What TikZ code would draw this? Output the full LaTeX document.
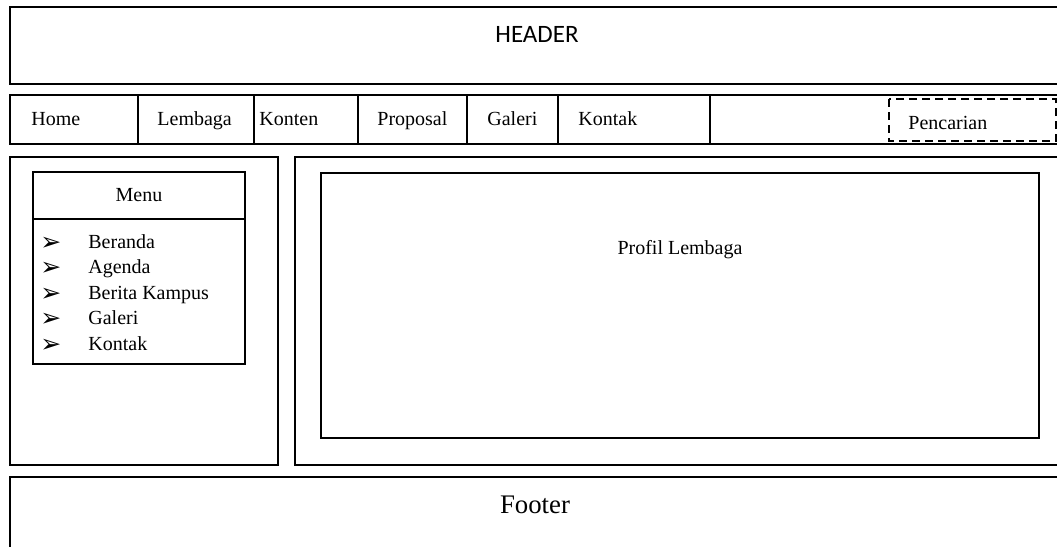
\documentclass[tikz,border=0pt]{standalone}
\usepackage{fontspec}
\setmainfont{Liberation Serif}
\newfontfamily\hdrfont{Carlito}
\newfontfamily\symfont{DejaVu Sans}
\begin{document}
\begin{tikzpicture}[x=0.5pt,y=-0.5pt,
  frame/.style={draw=black,line width=1pt},
  lbl/.style={anchor=base west,inner sep=0pt,font=\fontsize{10}{12}\selectfont},
  clbl/.style={anchor=base,inner sep=0pt,font=\fontsize{10}{12}\selectfont},
  bullet/.style={anchor=base west,inner sep=0pt,font=\symfont\fontsize{12.5}{14}\selectfont}]
\useasboundingbox (0,0) rectangle (1057,547);
\clip (0,0) rectangle (1057,547);

% header band
\draw[frame] (10,7) rectangle (1075,84);
\node[anchor=base,inner sep=0pt,font=\hdrfont\fontsize{12.5}{14}\selectfont] (header) at (537,42) {HEADER};

% navigation bar with its cells
\draw[frame] (10,95) rectangle (1075,144);
\foreach \x in {138,254,358,467,558,710}
  \draw[frame] (\x,95) -- (\x,144);
\node[lbl] (home)     at (31,125)  {Home};
\node[lbl] (lembaga)  at (157,125) {Lembaga};
\node[lbl] (konten)   at (259,125) {Konten};
\node[lbl] (proposal) at (377,125) {Proposal};
\node[lbl] (galeri)   at (487,125) {Galeri};
\node[lbl] (kontak)   at (578,125) {Kontak};

% search field
\draw[line width=1.2pt,dash pattern=on 4pt off 2.5pt] (889,99) rectangle (1056,141);
\node[lbl] (cari) at (908,129) {Pencarian};

% left sidebar with the menu list
\draw[frame] (10,157) rectangle (278,465);
\draw[frame] (33,172) rectangle (245,364);
\draw[frame] (33,219) -- (245,219);
\node[clbl] (menu) at (139,201) {Menu};
\foreach \t [count=\i from 0] in {Beranda,Agenda,Berita Kampus,Galeri,Kontak}{
  \node[bullet] (b\i) at (40,250+25.5*\i) {➢};
  \node[lbl] (m\i) at (88,248+25.5*\i) {\t};
}

% main content area
\draw[frame] (295,157) rectangle (1075,465);
\draw[frame] (321,173) rectangle (1039,438);
\node[clbl] (profil) at (680,254) {Profil Lembaga};

% footer band
\draw[frame] (10,477) rectangle (1075,570);
\node[anchor=base,inner sep=0pt,font=\fontsize{13.4}{16}\selectfont] (footer) at (535,513) {Footer};
\end{tikzpicture}
\end{document}
